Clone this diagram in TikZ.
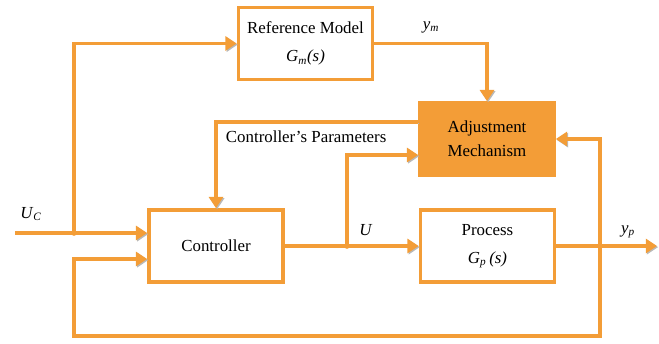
\documentclass[tikz,border=0pt]{standalone}
\usepackage{fontspec}
\setmainfont{Liberation Serif}
\usepackage{tikz}
\usetikzlibrary{arrows.meta,calc,positioning,shadows}
\definecolor{mraorange}{RGB}{243,157,55}

\begin{document}
\begin{tikzpicture}[x=0.025cm,y=-0.025cm,>={Triangle[length=8pt,width=10pt]},
	block/.style={draw=mraorange,line width=2.6pt,fill=white,minimum width=3.35cm,
		minimum height=1.8cm,align=center,font=\fontsize{12}{20}\selectfont,
		drop shadow={shadow xshift=1pt,shadow yshift=-1pt,fill=gray!60}},
	sig/.style={draw=mraorange,line width=2.4pt,
		preaction={draw=gray!55,transform canvas={shift={(0.8pt,-0.8pt)}}}},
	lbl/.style={font=\fontsize{12}{14}\selectfont}]
	
	\useasboundingbox (0,0) rectangle (659,343);
	
	% Blocks
	\node[block] (ref) at (305.5,43.5) {Reference Model\\ \textit{G}\textsubscript{\textit{m}}\textit{(s)}};
	\node[block,fill=mraorange,font=\fontsize{12}{17}\selectfont] (adj) at (487,139) {Adjustment\\ Mechanism};
	\node[block] (ctrl) at (216,246) {Controller};
	\node[block] (proc) at (487.5,246) {Process\\ \textit{G}\textsubscript{\textit{p}}\,\textit{(s)}};
	
	% Branch points and free ends
	\coordinate (uc) at (15,233);
	\coordinate (j1) at (74,233);
	\coordinate (j2) at (347,246);
	\coordinate (j3) at (600,246);
	\coordinate (yp) at (657,246);
	\coordinate (fb) at (74,336);
	
	% Reference input
	\draw[sig,->] (uc) -- (uc -| ctrl.west);
	\draw[sig,->] (j1) |- (ref.west);
	\node[lbl] (uclbl) at (31,214) {\textit{U}\textsubscript{\textit{C}}};
	
	% Model output
	\draw[sig,->] (ref.east) -| (adj.north);
	\node[lbl] (ymlbl) at (431,27) {\textit{y}\textsubscript{\textit{m}}};
	
	% Parameters back to the controller
	\draw[sig,->] ([yshift=0.425cm]adj.west) -| (ctrl.north);
	\node[lbl,anchor=west] (parlbl) at (221,137) {Controller’s Parameters};
	
	% Control signal
	\draw[sig,->] (ctrl.east) -- (proc.west);
	\draw[sig,->] (j2) |- ([yshift=-0.4cm]adj.west);
	\node[lbl] (ulbl) at (366,230) {\textit{U}};
	
	% Plant output and feedback
	\draw[sig,->] (proc.east) -- (yp);
	\draw[sig,->] (j3) |- (adj.east);
	\draw[sig,->] (j3) |- (fb) |- ([yshift=-0.325cm]ctrl.west);
	\node[lbl] (yplbl) at (628,232) {\textit{y}\textsubscript{\textit{p}}};
	
	% Junction dots
	\foreach \j in {j1,j2,j3}
	\fill[mraorange] (\j) circle (2pt);
	
\end{tikzpicture}
\end{document}
